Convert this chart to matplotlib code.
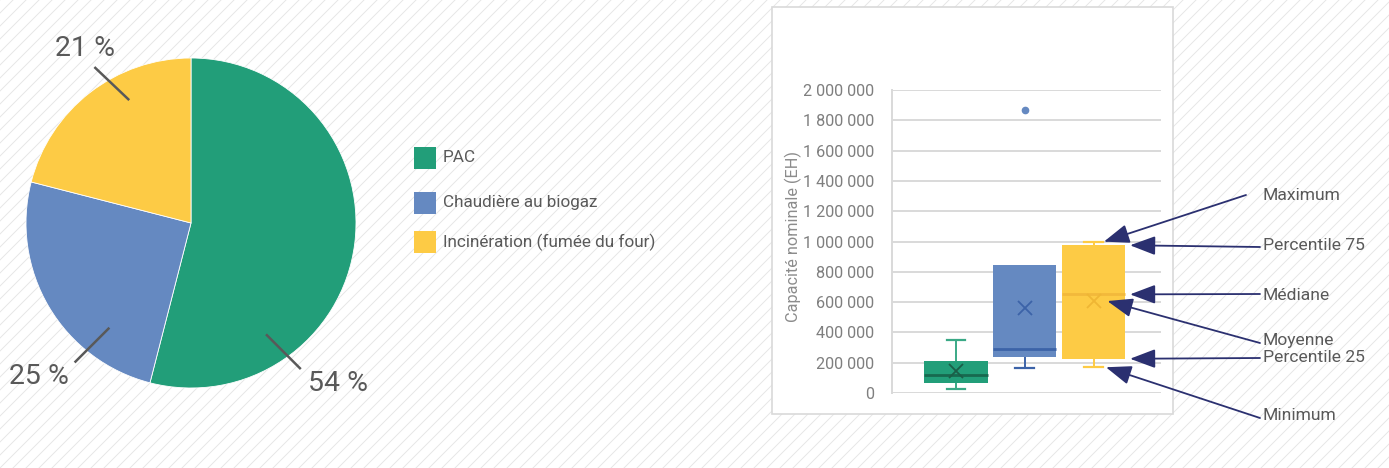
import numpy as np
import matplotlib
matplotlib.use("Agg")
import matplotlib.pyplot as plt
from matplotlib.patches import Rectangle

plt.rcParams["font.family"] = ["Roboto", "DejaVu Sans"]

# ── data ─────────────────────────────────────────────────────────────────────
pie_labels = ["PAC", "Chaudière au biogaz", "Incinération (fumée du four)"]
pie_shares = [54, 25, 21]
colors = ["#229e79", "#6589c1", "#fdcb45"]

box_names = ["PAC", "Chaudière au biogaz", "Incinération (fumée du four)"]
whislo = [28000, 163000, 170000]
q1 = [68000, 240000, 226000]
med = [121000, 290000, 651000]
q3 = [211000, 843000, 975000]
whishi = [348000, 843000, 999000]
means = [147000, 563000, 607000]
fliers = [[], [1868000], []]

yticks = [0, 200000, 400000, 600000, 800000, 1000000, 1200000,
          1400000, 1600000, 1800000, 2000000]

legend_notes = ["Maximum", "Percentile 75", "Médiane", "Moyenne",
                "Percentile 25", "Minimum"]

W, H = 1389, 468
fig = plt.figure(figsize=(W / 100, H / 100), dpi=100)

# ── hatched background ───────────────────────────────────────────────────────
bg = fig.add_axes([0, 0, 1, 1], zorder=0)
bg.set_xlim(0, W)
bg.set_ylim(0, H)
bg.axis("off")
for c in np.arange(-H, W + H, 13):
    bg.plot([c, c + H], [0, H], color="#e6e6e6", lw=0.7)
bg.add_patch(Rectangle((772, H - 414), 401, 407, facecolor="white",
                       edgecolor="#d9d9d9", lw=1.2, zorder=3))

# ── pie ──────────────────────────────────────────────────────────────────────
ax1 = fig.add_axes([26 / W, (H - 388) / H, 330 / W, 330 / H], zorder=2)
ax1.pie(pie_shares, colors=colors, startangle=90, counterclock=False,
        wedgeprops=dict(edgecolor="white", linewidth=0.6))
ax1.set_xlim(-1, 1)
ax1.set_ylim(-1, 1)
ax1.set_aspect("equal")
ax1.axis("off")

# leader lines (inner point, outer point) and label centres, in pie units
leaders = [((0.46, -0.68), (0.66, -0.88)),
           ((-0.50, -0.64), (-0.70, -0.84)),
           ((-0.38, 0.75), (-0.58, 0.94))]
label_pos = [(0.89, -0.97), (-0.92, -0.93), (-0.64, 1.06)]
for share, (p0, p1), (lx, ly) in zip(pie_shares, leaders, label_pos):
    ax1.plot([p0[0], p1[0]], [p0[1], p1[1]], color="#595959", lw=1.8,
             clip_on=False)
    ax1.text(lx, ly, f"{share} %", ha="center", va="center", fontsize=20.5,
             color="#595959", clip_on=False)

# legend
leg_y = [158, 203, 242]
for lab, col, y in zip(pie_labels, colors, leg_y):
    bg.add_patch(Rectangle((414, H - y - 11), 22, 22, facecolor=col,
                           edgecolor="none", zorder=3))
    bg.text(443, H - y, lab, va="center", ha="left", fontsize=12.3,
            color="#595959", zorder=3)

# ── box plot ─────────────────────────────────────────────────────────────────
ax2 = fig.add_axes([892 / W, (H - 393) / H, 269 / W, 303 / H], zorder=4)
stats = []
for i in range(3):
    stats.append(dict(label=box_names[i], whislo=whislo[i], q1=q1[i],
                      med=med[i], q3=q3[i], whishi=whishi[i],
                      mean=means[i], fliers=fliers[i]))
art = ax2.bxp(stats, positions=[1, 2, 3], widths=0.92, patch_artist=True,
              showmeans=True, capwidths=0.27,
              meanprops=dict(marker="x", markersize=10, markeredgewidth=1.3),
              flierprops=dict(marker="o", markersize=4.5))

med_cols = ["#17694f", "#3c63a8", "#f2b93b"]
whisk_cols = ["#3aa986", "#3c63a8", "#fdcb45"]
mean_cols = ["#1b5e48", "#3c63a8", "#efb634"]
for i in range(3):
    art["boxes"][i].set(facecolor=colors[i], edgecolor="none", zorder=3)
    art["medians"][i].set(color=med_cols[i], lw=2, zorder=4)
    art["means"][i].set(markeredgecolor=mean_cols[i], zorder=5)
    for k in (2 * i, 2 * i + 1):
        art["whiskers"][k].set(color=whisk_cols[i], lw=1.4, zorder=2)
        art["caps"][k].set(color=whisk_cols[i], lw=1.6, zorder=2)
    art["fliers"][i].set(markerfacecolor=colors[i], markeredgecolor=colors[i])
art["caps"][3].set_visible(False)

ax2.set_xlim(0.07, 3.98)
ax2.set_ylim(0, 2000000)
ax2.set_yticks(yticks)
ax2.set_yticklabels([f"{v:,}".replace(",", " ") for v in yticks])
ax2.set_xticks([])
ax2.tick_params(axis="y", length=0, pad=13, labelsize=11.7,
                labelcolor="#7f7f7f")
ax2.grid(True, axis="y", color="#d9d9d9", lw=1.4)
ax2.set_axisbelow(True)
for s in ["top", "right", "bottom"]:
    ax2.spines[s].set_visible(False)
ax2.spines["left"].set_color("#d9d9d9")
ax2.spines["left"].set_linewidth(1.4)
ax2.patch.set_alpha(0)
fig.text(793 / W, (H - 237) / H, "Capacité nominale (EH)", rotation=90,
         ha="center", va="center", fontsize=11.7, color="#8c8c8c", zorder=5)

# annotation arrows pointing at the last box
note_y = [196, 246, 295, 341, 357, 416]
tail = [(1246, 195), (1260, 247), (1260, 294), (1260, 343), (1260, 358),
        (1260, 418)]
tip_vals = [whishi[2], q3[2], med[2], means[2], q1[2], whislo[2]]
tip_dx = [0.15, 0.53, 0.53, 0.2, 0.53, 0.18]
for note, ty, (tx0, ty0), v, dx in zip(legend_notes, note_y, tail,
                                       tip_vals, tip_dx):
    ax2.annotate("", xy=(3 + dx, v), xycoords="data",
                 xytext=(tx0, H - ty0), textcoords="figure pixels",
                 arrowprops=dict(arrowstyle="-|>,head_length=1.2,head_width=0.45",
                                 color="#2b3070", lw=1.3, shrinkA=0,
                                 shrinkB=0, mutation_scale=13),
                 annotation_clip=False)
    fig.text(1263 / W, (H - ty) / H, note, ha="left", va="center",
             fontsize=12.6, color="#595959", zorder=5)

fig.savefig("out.png", dpi=100)
